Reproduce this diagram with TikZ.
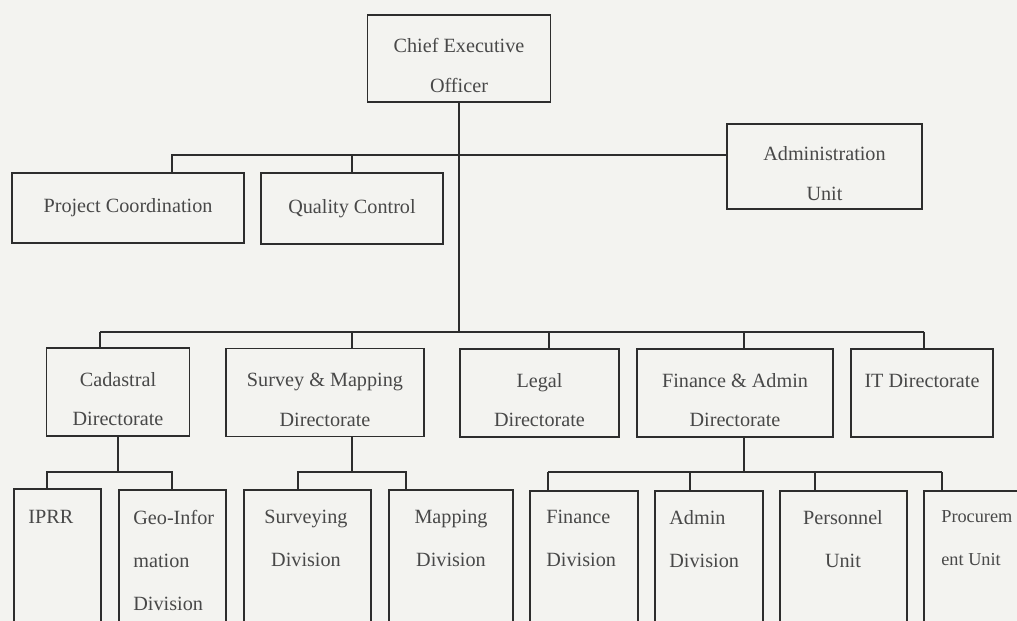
\documentclass[tikz,border=0pt]{standalone}
\usepackage{fontspec}
\setmainfont{Liberation Serif}
\definecolor{paper}{RGB}{243,243,240}
\definecolor{ink}{RGB}{45,45,45}
\definecolor{txt}{RGB}{72,72,72}
\newcommand\lift{\rule{0pt}{16pt}}
\tikzset{
  unitbox/.style={draw=ink, line width=1pt, text=txt, align=center, inner sep=0pt,
    font=\fontsize{11.5}{22.7}\selectfont},
  divbox/.style={draw=ink, line width=1pt, anchor=north west, minimum height=4cm},
  divtext/.style={text=txt, align=left, inner sep=0pt, anchor=north west,
    font=\fontsize{11.5}{24.4}\selectfont},
  link/.style={draw=ink, line width=0.8pt},
}
\begin{document}
\begin{tikzpicture}[x=0.02cm, y=-0.02cm]
  \fill[paper] (0,0) rectangle (1017,621);
  \clip (0,0) rectangle (1017,621);
  % Top level
  \node[unitbox, minimum width=3.66cm, minimum height=1.74cm] (ceo) at (459,58.5) {\lift Chief Executive\\Officer};
  \node[unitbox, minimum width=3.9cm, minimum height=1.7cm] (admin) at (824.5,166.5) {\lift Administration\\Unit};
  \node[unitbox, minimum width=4.64cm, minimum height=1.4cm] (pcu) at (128,208) {Project Coordination};
  \node[unitbox, minimum width=3.64cm, minimum height=1.42cm] (qcu) at (352,208.5) {Quality Control};
  % Directorates
  \node[unitbox, minimum width=2.86cm, minimum height=1.76cm] (cad) at (118,392) {\lift Cadastral\\Directorate};
  \node[unitbox, minimum width=3.96cm, minimum height=1.76cm] (svm) at (325,392.5) {\lift Survey \& Mapping\\Directorate};
  \node[unitbox, minimum width=3.18cm, minimum height=1.76cm] (legal) at (539.5,393) {\lift Legal\\Directorate};
  \node[unitbox, minimum width=3.92cm, minimum height=1.76cm] (fin) at (735,393) {\lift Finance \& Admin\\Directorate};
  \node[unitbox, minimum width=2.84cm, minimum height=1.76cm] (itd) at (922,393) {\lift IT Directorate\\~};
  % Divisions and units
  \node[divbox, minimum width=1.74cm] (iprr) at (13,488) {};
  \node[divbox, minimum width=2.14cm] (geo) at (118,489) {};
  \node[divbox, minimum width=2.54cm] (srv) at (243,489) {};
  \node[divbox, minimum width=2.48cm] (map) at (388,489) {};
  \node[divbox, minimum width=2.16cm] (fdiv) at (529,490) {};
  \node[divbox, minimum width=2.16cm] (adiv) at (654,490) {};
  \node[divbox, minimum width=2.54cm] (pers) at (779,490) {};
  \node[divbox, minimum width=2.54cm] (proc) at (923,490) {};
  \node[divtext] (iprrT) at (28,510) {IPRR};
  \node[divtext] (geoT) at (133,510) {Geo-Infor\\mation\\Division};
  \node[divtext, anchor=north, align=center] (srvT) at (306,510) {Surveying\\Division};
  \node[divtext, anchor=north, align=center] (mapT) at (451,510) {Mapping\\Division};
  \node[divtext] (fdivT) at (546,510) {Finance\\Division};
  \node[divtext] (adivT) at (669,510) {Admin\\Division};
  \node[divtext, anchor=north, align=center] (persT) at (843,510) {Personnel\\Unit};
  \node[divtext, font=\fontsize{10.4}{24.4}\selectfont] (procT) at (941,510) {Procurem\\ent Unit};
  % Connectors
  \coordinate (hubA) at (459,155);
  \coordinate (hubB) at (459,332);
  \draw[link] (ceo.south) -- (hubB);
  \draw[link] (admin.west |- hubA) -- (hubA -| 172,0) -- (pcu.north -| 172,0);
  \draw[link] (hubA -| qcu.north) -- (qcu.north);
  \draw[link] (hubB -| 100,0) -- (hubB -| 924,0);
  \foreach \n/\x in {cad/100, svm/352, legal/549, fin/744, itd/924}
    \draw[link] (hubB -| \x,0) -- (\n.north -| \x,0);
  \draw[link] (cad.south) -- (cad.south |- 0,472);
  \draw[link] (iprr.north -| 47,0) -- (47,472) -- (172,472) -- (geo.north -| 172,0);
  \draw[link] (svm.south -| 352,0) -- (352,472);
  \draw[link] (srv.north -| 298,0) -- (298,472) -- (406,472) -- (map.north -| 406,0);
  \draw[link] (fin.south -| 744,0) -- (744,472);
  \draw[link] (548,472) -- (942,472);
  \foreach \n/\x in {fdiv/548, adiv/690, pers/815, proc/942}
    \draw[link] (\x,472) -- (\n.north -| \x,0);
\end{tikzpicture}
\end{document}
